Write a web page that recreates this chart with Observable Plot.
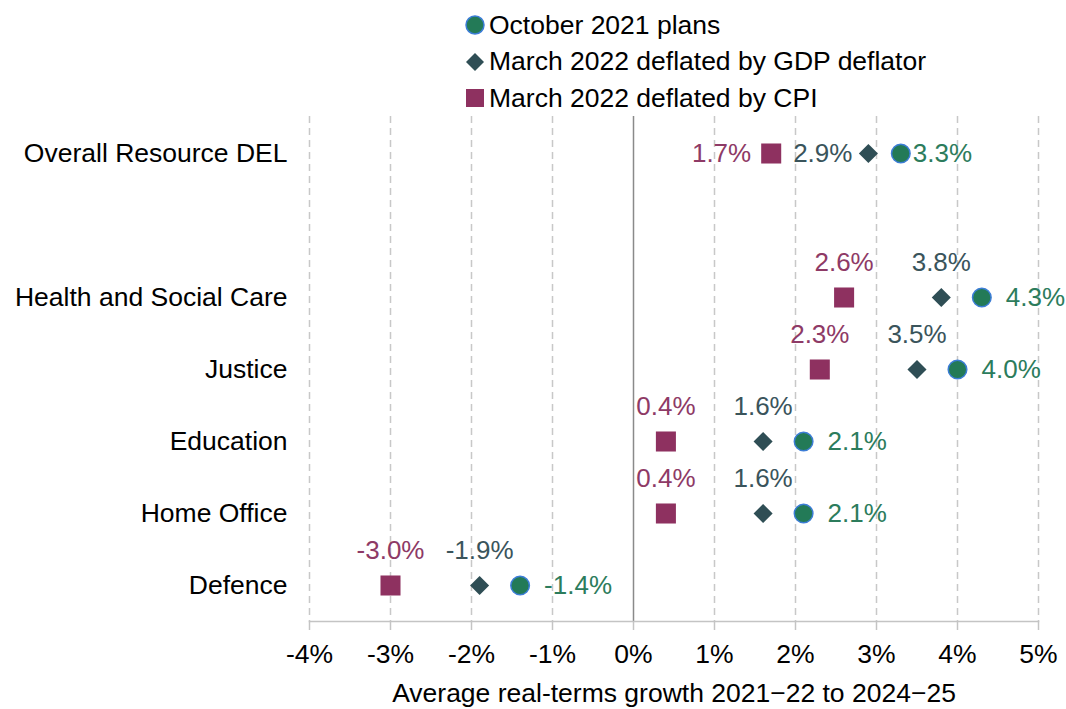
<!DOCTYPE html>
<html>
<head>
<meta charset="utf-8">
<script src="https://cdn.jsdelivr.net/npm/d3@7"></script>
<script src="https://cdn.jsdelivr.net/npm/@observablehq/plot@0.6"></script>
<style>
  body { margin: 0; background: #fff; }
  #wrap { position: relative; width: 1066px; height: 709px; font-family: "Liberation Sans", Arial, sans-serif; }
  #legend { position: absolute; left: 464px; top: 7px; font-size: 26.5px; color: #000; }
  .item { display: flex; align-items: center; height: 36.5px; }
  .item svg { margin-right: 3px; }
</style>
</head>
<body>
<div id="wrap">
  <div id="chart"></div>
  <div id="legend"></div>
</div>
<script>
const categories = ["Overall Resource DEL", "Health and Social Care", "Justice", "Education", "Home Office", "Defence"];
const oct2021 = [3.3, 4.3, 4.0, 2.1, 2.1, -1.4];
const marchGDP = [2.9, 3.8, 3.5, 1.6, 1.6, -1.9];
const marchCPI = [1.7, 2.6, 2.3, 0.4, 0.4, -3.0];
const xTicks = [-4, -3, -2, -1, 0, 1, 2, 3, 4, 5];
const seriesNames = ["October 2021 plans", "March 2022 deflated by GDP deflator", "March 2022 deflated by CPI"];

const spacer = " ";
const yDomain = [categories[0], spacer, ...categories.slice(1)];

const cPurple = "#8E3160", cSlate = "#2F4E55", cGreen = "#237A57", cBlue = "#3C7DD6";
const tPurple = "#8E3A66", tSlate = "#3A545B", tGreen = "#2C7C5C";

const rows = categories.map((c, i) => ({cat: c, oct: oct2021[i], gdp: marchGDP[i], cpi: marchCPI[i], overall: i === 0}));
const fmt = v => v.toFixed(1) + "%";
const overallRows = rows.filter(d => d.overall);
const deptRows = rows.filter(d => !d.overall);
const fs = 26;

const chart = Plot.plot({
  width: 1066,
  height: 709,
  marginTop: 116,
  marginBottom: 88,
  marginLeft: 309,
  marginRight: 28,
  style: {fontFamily: "'Liberation Sans', Arial, sans-serif", fontSize: "26.5px", color: "#000", background: "#fff"},
  x: {domain: [-4, 5]},
  y: {type: "band", domain: yDomain, padding: 0},
  marks: [
    Plot.ruleX(xTicks.filter(d => d !== 0), {stroke: "#c8c8c8", strokeWidth: 1.5, strokeDasharray: "7,5"}),
    Plot.ruleX([0], {stroke: "#8a8a8a", strokeWidth: 1.5}),
    Plot.frame({anchor: "bottom", stroke: "#c4c4c4", strokeWidth: 1.5}),
    Plot.axisX({ticks: xTicks, tickFormat: d => d + "%", tickSize: 9, tickPadding: 14, stroke: "#c4c4c4", strokeWidth: 1.5, fill: "#000", fontSize: 26.5,
      label: "Average real-terms growth 2021\u221222 to 2024\u221225", labelAnchor: "center", labelArrow: "none", labelOffset: 80}),
    Plot.axisY({ticks: categories, tickSize: 0, tickPadding: 22, label: null, fill: "#000", fontSize: 26.5}),
    Plot.dot(rows, {x: "cpi", y: "cat", symbol: "square", r: 11.3, fill: cPurple}),
    Plot.dot(rows, {x: "gdp", y: "cat", symbol: "diamond2", r: 8.6, fill: cSlate}),
    Plot.dot(rows, {x: "oct", y: "cat", symbol: "circle", r: 9.3, fill: cGreen, stroke: cBlue, strokeWidth: 1.5}),
    Plot.text(overallRows, {x: "cpi", y: "cat", text: d => fmt(d.cpi), textAnchor: "end", dx: -20, fill: tPurple, fontSize: fs}),
    Plot.text(overallRows, {x: "gdp", y: "cat", text: d => fmt(d.gdp), textAnchor: "end", dx: -16, fill: tSlate, fontSize: fs}),
    Plot.text(overallRows, {x: "oct", y: "cat", text: d => fmt(d.oct), textAnchor: "start", dx: 12, fill: tGreen, fontSize: fs}),
    Plot.text(deptRows, {x: "cpi", y: "cat", text: d => fmt(d.cpi), dy: -35, fill: tPurple, fontSize: fs}),
    Plot.text(deptRows, {x: "gdp", y: "cat", text: d => fmt(d.gdp), dy: -35, fill: tSlate, fontSize: fs}),
    Plot.text(deptRows, {x: "oct", y: "cat", text: d => fmt(d.oct), textAnchor: "start", dx: 24, fill: tGreen, fontSize: fs})
  ]
});
document.getElementById("chart").appendChild(chart);

const symbols = [
  `<svg width="22" height="22"><circle cx="11" cy="11" r="9" fill="${cGreen}" stroke="${cBlue}" stroke-width="1.5"/></svg>`,
  `<svg width="22" height="22"><path d="M11 2 L20 11 L11 20 L2 11 Z" fill="${cSlate}"/></svg>`,
  `<svg width="22" height="22"><rect x="2" y="2" width="18" height="18" fill="${cPurple}"/></svg>`
];
const legendEl = document.getElementById("legend");
seriesNames.forEach((name, i) => {
  const div = document.createElement("div");
  div.className = "item";
  div.innerHTML = symbols[i] + `<span>${name}</span>`;
  legendEl.appendChild(div);
});
</script>
</body>
</html>
